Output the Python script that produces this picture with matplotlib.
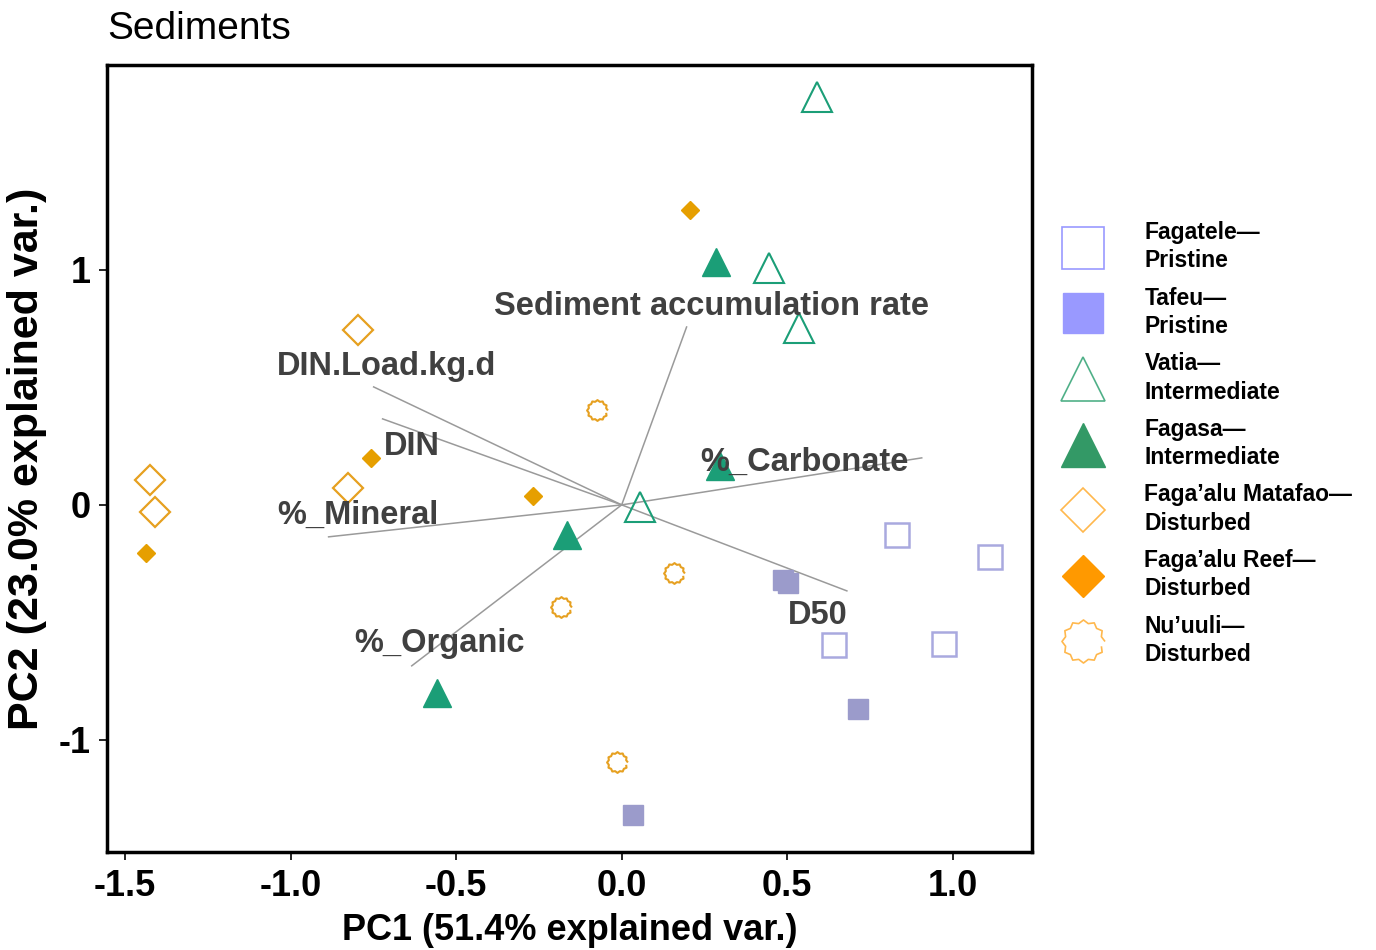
import matplotlib.pyplot as plt
from matplotlib.lines import Line2D
import numpy as np

plt.rcParams['font.family'] = ['Liberation Sans', 'DejaVu Sans']
plt.rcParams['axes.unicode_minus'] = False

# PCA scores
fagatele_x = [0.831, 1.112, 0.640, 0.973]
fagatele_y = [-0.128, -0.221, -0.596, -0.591]
tafeu_x = [0.486, 0.502, 0.713, 0.033]
tafeu_y = [-0.319, -0.332, -0.868, -1.319]
vatia_x = [0.589, 0.444, 0.535, 0.054]
vatia_y = [1.736, 1.009, 0.753, -0.009]
fagasa_x = [0.284, 0.296, -0.166, -0.559]
fagasa_y = [1.034, 0.166, -0.128, -0.800]
matafao_x = [-0.795, -1.423, -1.408, -0.825]
matafao_y = [0.745, 0.106, -0.030, 0.072]
reef_x = [0.205, -0.758, -0.269, -1.435]
reef_y = [1.255, 0.200, 0.038, -0.204]
nuuuli_x = [-0.076, 0.157, -0.184, -0.015]
nuuuli_y = [0.404, -0.289, -0.434, -1.094]

# loadings (arrow ends) and label spots
var_names = ['Sediment accumulation rate', 'DIN.Load.kg.d', 'DIN', '%_Mineral',
             '%_Organic', '%_Carbonate', 'D50']
load_x = [0.196, -0.749, -0.722, -0.885, -0.634, 0.906, 0.680]
load_y = [0.757, 0.502, 0.366, -0.136, -0.685, 0.200, -0.366]
lab_x = [0.272, -0.710, -0.634, -0.797, -0.550, 0.553, 0.592]
lab_y = [0.843, 0.587, 0.247, -0.043, -0.591, 0.183, -0.472]

# wavy circle marker
n = 24
ang = np.linspace(0, 2 * np.pi, n, endpoint=False)
rad = np.where(np.arange(n) % 2 == 0, 1.0, 0.86)
wavy = list(zip(rad * np.cos(ang), rad * np.sin(ang)))

fig = plt.figure(figsize=(13.76, 9.5), dpi=100)
ax = fig.add_axes([0.0778, 0.1032, 0.6722, 0.8284])

for x, y in zip(load_x, load_y):
    ax.plot([0, x], [0, y], color='#9a9a9a', lw=1.1, zorder=1)

ax.plot(fagatele_x, fagatele_y, 's', ms=17, mfc='none', mec='#a9a9df', mew=1.8, zorder=3)
ax.plot(tafeu_x, tafeu_y, 's', ms=15, color='#9b9bcb', zorder=3)
ax.plot(vatia_x, vatia_y, '^', ms=22, mfc='none', mec='#1b9e77', mew=1.5, zorder=3)
ax.plot(fagasa_x, fagasa_y, '^', ms=20, color='#1b9e77', zorder=3)
ax.plot(matafao_x, matafao_y, 'D', ms=15, mfc='none', mec='#e6a020', mew=1.6, zorder=3)
ax.plot(reef_x, reef_y, 'D', ms=9.5, color='#e69f00', zorder=3)
ax.plot(nuuuli_x, nuuuli_y, marker=wavy, ls='none', ms=15, mfc='none', mec='#e6a020', mew=1.5, zorder=3)

for name, x, y in zip(var_names, lab_x, lab_y):
    ax.text(x, y, name, ha='center', va='center', fontsize=23.5, fontweight='bold',
            color='#404040', zorder=4)

ax.set_xlim(-1.554, 1.239)
ax.set_ylim(-1.477, 1.872)
ax.set_xticks([-1.5, -1.0, -0.5, 0.0, 0.5, 1.0])
ax.set_xticklabels(['-1.5', '-1.0', '-0.5', '0.0', '0.5', '1.0'])
ax.set_yticks([-1, 0, 1])
ax.set_yticklabels(['-1', '0', '1'])
for s in ax.spines.values():
    s.set_linewidth(2.5)
ax.tick_params(length=6, width=1.2, labelsize=26, pad=6)
for lab in ax.get_xticklabels() + ax.get_yticklabels():
    lab.set_fontweight('bold')

ax.set_xlabel('PC1 (51.4% explained var.)', fontsize=26, fontweight='bold', labelpad=7)
ax.set_ylabel('PC2 (23.0% explained var.)', fontsize=31, fontweight='bold', labelpad=8)
ax.set_title('Sediments', fontsize=28, loc='left', pad=19)

handles = [
    Line2D([], [], ls='none', marker='s', ms=30, mfc='white', mec='#9999ff', mew=1.2),
    Line2D([], [], ls='none', marker='s', ms=29, mfc='#9999ff', mec='#9999ff'),
    Line2D([], [], ls='none', marker='^', ms=31, mfc='white', mec='#50b088', mew=1.2),
    Line2D([], [], ls='none', marker='^', ms=31, mfc='#339966', mec='#339966'),
    Line2D([], [], ls='none', marker='D', ms=22, mfc='white', mec='#ffb84d', mew=1.2),
    Line2D([], [], ls='none', marker='D', ms=21, mfc='#ff9900', mec='#ff9900'),
    Line2D([], [], ls='none', marker=wavy, ms=31, mfc='white', mec='#ffb84d', mew=1.2),
]
labels = ['Fagatele\u2014\nPristine', 'Tafeu\u2014\nPristine', 'Vatia\u2014\nIntermediate',
          'Fagasa\u2014\nIntermediate', 'Faga\u2019alu Matafao\u2014\nDisturbed',
          'Faga\u2019alu Reef\u2014\nDisturbed', 'Nu\u2019uuli\u2014\nDisturbed']
leg = fig.legend(handles, labels, loc='upper left', bbox_to_anchor=(1062 / 1376, 1 - 221 / 950),
                 frameon=False, borderpad=0, borderaxespad=0, handlelength=1.8,
                 handletextpad=1.8, labelspacing=0.62,
                 prop={'family': 'Liberation Sans', 'weight': 'bold', 'size': 16.5})
for t in leg.get_texts():
    t.set_linespacing(1.3)

fig.savefig('out.png', dpi=100)
